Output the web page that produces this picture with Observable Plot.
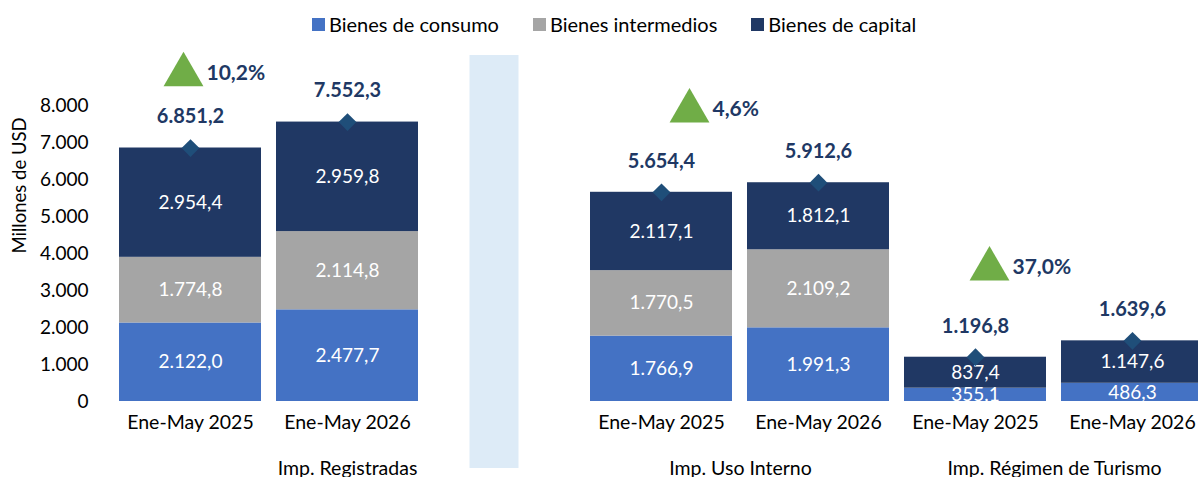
<!DOCTYPE html>
<html><head><meta charset="utf-8">
<script src="https://cdn.jsdelivr.net/npm/d3@7"></script>
<script src="https://cdn.jsdelivr.net/npm/@observablehq/plot@0.6"></script>
<style>
html,body{margin:0;padding:0;background:#fff;overflow:hidden;}
#wrap{position:relative;width:1198px;height:477px;font-family:Lato,"Open Sans",sans-serif;}
#legend{position:absolute;top:12px;left:312px;display:flex;align-items:center;font-size:20px;color:#000;white-space:nowrap;}
#legend .item{display:flex;align-items:center;margin-right:34px;}
#legend .sw{width:13px;height:13px;margin-right:4px;}
#chart{position:absolute;top:0;left:0;}
</style></head><body>
<div id="wrap"><div id="chart"></div><div id="legend"></div></div>
<script>
// ---- data ----
const categories = ["Bienes de consumo", "Bienes intermedios", "Bienes de capital"];
const periods = ["Ene-May 2025", "Ene-May 2026"];
const groups = ["Imp. Registradas", "Imp. Uso Interno", "Imp. Régimen de Turismo"];
const consumo     = [2122.0, 2477.7, 1766.9, 1991.3, 355.1, 486.3];
const intermedios = [1774.8, 2114.8, 1770.5, 2109.2, 4.3, 5.7];
const capital     = [2954.4, 2959.8, 2117.1, 1812.1, 837.4, 1147.6];
const totals      = [6851.2, 7552.3, 5654.4, 5912.6, 1196.8, 1639.6];
const growth      = ["10,2%", "4,6%", "37,0%"];
const yTicks = [0, 1000, 2000, 3000, 4000, 5000, 6000, 7000, 8000];

// ---- styles ----
const colors = ["#4472C4", "#A5A5A5", "#203864"];
const navy = "#203864", diamondFill = "#1F4E79", green = "#70AD47", sepFill = "#DDEBF7";

// slots: group1 (2 bars + separator), group2, group3
const slots = ["R-0", "R-1", "sep", "U-0", "U-1", "T-0", "T-1"];
const barSlots = ["R-0", "R-1", "U-0", "U-1", "T-0", "T-1"];
const series = [consumo, intermedios, capital];

const rows = [];
barSlots.forEach((s, i) => {
  categories.forEach((c, k) => rows.push({slot: s, category: c, value: series[k][i]}));
});
const bars = barSlots.map((s, i) => ({slot: s, period: periods[i % 2], total: totals[i], group: groups[Math.floor(i / 2)]}));

const loc = d3.formatLocale({decimal: ",", thousands: ".", grouping: [3], currency: ["", ""]});
const f1 = loc.format(",.1f"), f0 = loc.format(",.0f");

// annotation layout (placement only)
const step = 158;
const groupLabelPlace = [{slot: "R-1", dx: 0}, {slot: "U-0", dx: step / 2}, {slot: "T-0", dx: step / 2}];
const growthPlace = [{slot: "R-0", y: 8830, dx: -7}, {slot: "U-0", y: 7850, dx: 28}, {slot: "T-0", y: 3580, dx: 14}];

const marks = [
  Plot.barY([{slot: "sep"}], {x: "slot", y1: 0, y2: 8000, fill: sepFill, insetTop: -50, insetBottom: -67, insetLeft: 46.5, insetRight: 46.5, dx: -10}),
  Plot.barY(rows, {x: "slot", y: "value", fill: "category"}),
  Plot.text(rows, Plot.stackY({x: "slot", y: "value", text: d => d.value >= 100 ? f1(d.value) : null, fill: "white", fontSize: 19, clip: true})),
  Plot.dot(bars, {x: "slot", y: "total", symbol: "diamond2", r: 8, fill: diamondFill}),
  Plot.text(bars, {x: "slot", y: "total", text: d => f1(d.total), dy: -31, fill: navy, fontWeight: "bold", fontSize: 20}),
  Plot.text(bars, {x: "slot", text: "period", frameAnchor: "bottom", dy: 27, fontSize: 19.5, fill: "#000"}),
  Plot.axisY({ticks: yTicks, tickSize: 0, tickPadding: 8, tickFormat: f0, fontSize: 19, label: null, fill: "#000"}),
  Plot.text(["Millones de USD"], {frameAnchor: "left", rotate: -90, dx: -76, fontSize: 18.5, fill: "#000"})
];
groups.forEach((g, i) => {
  const p = groupLabelPlace[i];
  marks.push(Plot.text([g], {x: () => p.slot, text: d => d, frameAnchor: "bottom", dy: 73, dx: p.dx, fontSize: 19.5, fill: "#000"}));
  const q = growthPlace[i];
  marks.push(Plot.dot([growth[i]], {x: () => q.slot, y: () => q.y, symbol: "triangle", r: 14.8, fill: green, dx: q.dx}));
  marks.push(Plot.text([growth[i]], {x: () => q.slot, y: () => q.y, text: d => d, textAnchor: "start", dx: q.dx + 23, dy: -2, fill: navy, fontWeight: "bold", fontSize: 21}));
});

const chart = Plot.plot({
  width: 1198, height: 477,
  marginTop: 105, marginBottom: 76, marginLeft: 96, marginRight: 0,
  style: {fontFamily: "Lato, 'Open Sans', sans-serif", background: "transparent", overflow: "visible"},
  x: {domain: slots, range: [101, 1222], paddingInner: 0.095, paddingOuter: 0.095, axis: null},
  y: {domain: [0, 8000]},
  color: {domain: categories, range: colors},
  marks
});
document.getElementById("chart").appendChild(chart);

const legend = document.getElementById("legend");
categories.forEach((c, k) => {
  const it = document.createElement("div"); it.className = "item";
  const sw = document.createElement("div"); sw.className = "sw"; sw.style.background = colors[k];
  const t = document.createElement("span"); t.textContent = c;
  it.appendChild(sw); it.appendChild(t); legend.appendChild(it);
});
</script>
</body></html>
